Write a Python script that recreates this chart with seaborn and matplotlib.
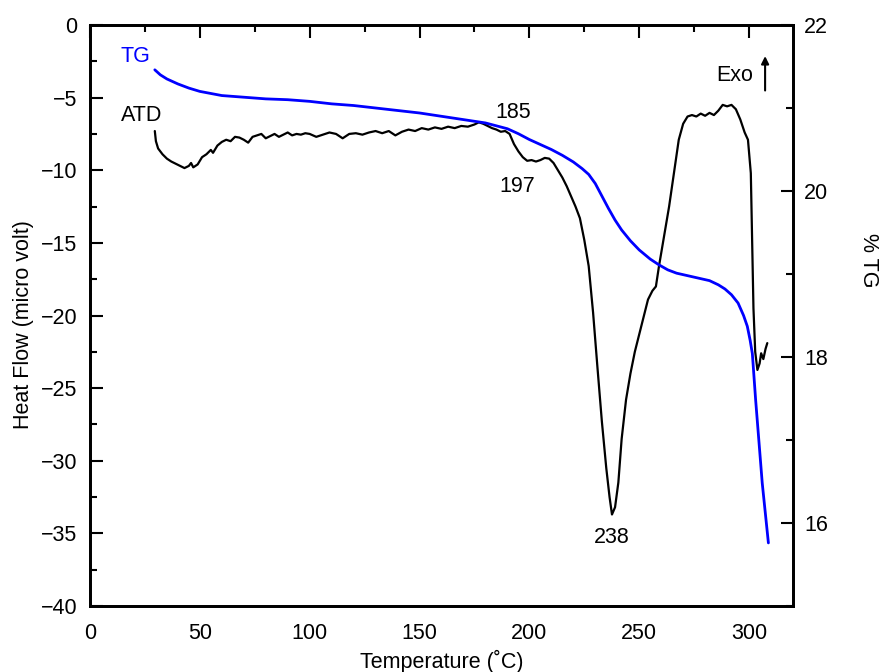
import matplotlib
matplotlib.use("Agg")
import matplotlib.pyplot as plt
import seaborn as sns
from matplotlib.ticker import MultipleLocator

# ---- data ----
atd_temp = [29.5, 30, 31, 33, 35, 37, 39, 41, 43, 45, 46, 47, 49, 51, 53, 55, 56, 58, 60, 62,
            64, 66, 68, 70, 72, 74, 76, 78, 80, 82, 84, 86, 88, 90, 92, 94, 96, 98, 100, 103,
            106, 109, 112, 115, 118, 121, 124, 127, 130, 133, 136, 139, 142, 145, 148, 151, 154, 157, 160, 163,
            166, 169, 172, 175, 177, 179, 181, 183, 185, 187, 189, 191, 193, 195, 197, 199, 201, 203, 205, 207,
            209, 211, 213, 215, 217, 219, 221, 223, 225, 227, 229, 231, 233, 235, 236.5, 237.6, 239, 240.5, 242, 244,
            246, 248, 250, 252, 254, 256, 257.6, 259, 261, 263.6, 266, 268, 270, 272, 274, 276, 278, 280, 282, 284,
            286, 288, 290, 292, 294, 296, 298, 299.5, 300.8, 301.4, 302, 302.8, 303.8, 304.8, 305.5, 306.5, 307.5, 308.3]
atd_flow = [-7.3, -8.0, -8.5, -8.9, -9.2, -9.4, -9.55, -9.7, -9.85, -9.7, -9.5, -9.8, -9.6, -9.1, -8.9, -8.6, -8.8, -8.3, -8.05, -7.9,
            -8.0, -7.7, -7.75, -7.9, -8.1, -7.7, -7.6, -7.5, -7.8, -7.65, -7.5, -7.7, -7.55, -7.4, -7.6, -7.5, -7.55, -7.45, -7.5, -7.7,
            -7.55, -7.4, -7.5, -7.8, -7.5, -7.45, -7.55, -7.4, -7.3, -7.45, -7.3, -7.6, -7.35, -7.2, -7.3, -7.1, -7.2, -7.05, -7.15, -7.0,
            -7.1, -6.95, -7.0, -6.85, -6.7, -6.8, -6.95, -7.1, -7.2, -7.35, -7.3, -7.5, -8.2, -8.7, -9.1, -9.35, -9.3, -9.4, -9.3, -9.15,
            -9.2, -9.5, -10.0, -10.5, -11.1, -11.8, -12.5, -13.3, -14.8, -16.6, -19.8, -23.6, -27.3, -30.5, -32.5, -33.7, -33.2, -31.5, -28.5, -25.8,
            -24.0, -22.5, -21.3, -20.1, -18.9, -18.3, -18.0, -16.6, -14.8, -12.5, -10.0, -7.9, -6.8, -6.3, -6.2, -6.3, -6.1, -6.25, -6.05, -6.2,
            -5.9, -5.5, -5.6, -5.5, -5.8, -6.5, -7.4, -7.9, -10.2, -15.0, -19.5, -22.5, -23.75, -23.3, -22.6, -23.0, -22.3, -21.9]

tg_temp = [29.5, 32, 35, 40, 45, 50, 60, 70, 80, 90, 100, 110, 120, 130, 140, 150, 160, 170, 180, 190,
           195, 200, 205, 210, 215, 220, 224, 227, 230, 233, 236, 239, 242, 246, 250, 255, 259, 263, 267, 272,
           277, 282, 286, 289, 292, 295, 297.5, 299.2, 300.5, 301.5, 303, 306, 308.8]
tg_pct = [21.46, 21.40, 21.35, 21.29, 21.24, 21.20, 21.15, 21.13, 21.11, 21.10, 21.08, 21.05, 21.03, 21.00, 20.97, 20.94, 20.90, 20.86, 20.82, 20.75,
          20.69, 20.62, 20.56, 20.50, 20.43, 20.35, 20.27, 20.20, 20.09, 19.94, 19.79, 19.65, 19.53, 19.40, 19.29, 19.18, 19.11, 19.05, 19.01, 18.98,
          18.95, 18.92, 18.87, 18.82, 18.75, 18.65, 18.50, 18.37, 18.20, 18.04, 17.48, 16.48, 15.76]

sns.set_style("white")
plt.rcParams['font.family'] = ['Liberation Sans', 'DejaVu Sans']
plt.rcParams['text.color'] = 'black'
plt.rcParams['axes.labelcolor'] = 'black'
plt.rcParams['xtick.color'] = 'black'
plt.rcParams['ytick.color'] = 'black'
FS = 15.5

fig = plt.figure(figsize=(8.83, 6.72), dpi=100)
ax = fig.add_axes([90/883, 1-606/672, (793-90)/883, (606-25)/672])
ax2 = ax.twinx()

sns.lineplot(x=atd_temp, y=atd_flow, ax=ax, color='black', linewidth=1.6)
sns.lineplot(x=tg_temp, y=tg_pct, ax=ax2, color='#0000ff', linewidth=2.0)

ax.set_xlim(0, 320)
ax.set_ylim(-40, 0)
ax2.set_ylim(15, 22)

ax.xaxis.set_major_locator(MultipleLocator(50))
ax.xaxis.set_minor_locator(MultipleLocator(25))
ax.yaxis.set_major_locator(MultipleLocator(5))
ax.yaxis.set_minor_locator(MultipleLocator(2.5))
ax2.yaxis.set_major_locator(MultipleLocator(2))
ax2.yaxis.set_minor_locator(MultipleLocator(1))

ax.tick_params(axis='both', which='both', direction='in', width=1.5, labelsize=FS, top=True,
               colors='black')
ax.tick_params(axis='x', which='major', length=9, pad=12)
ax.tick_params(axis='x', which='minor', length=5)
ax.tick_params(axis='y', which='major', length=9, pad=9)
ax.tick_params(axis='y', which='minor', length=5)
ax.tick_params(axis='x', which='both', labeltop=False)
ax2.tick_params(axis='y', which='major', direction='in', length=9, width=1.5, labelsize=FS, pad=8,
                colors='black')
ax2.tick_params(axis='y', which='minor', direction='in', length=5, width=1.5, colors='black')

for a in (ax, ax2):
    for s in a.spines.values():
        s.set_linewidth(2)
        s.set_color('black')
        s.set_visible(True)

ax.set_xlabel('Temperature (˚C)', fontsize=FS, va='center')
ax.xaxis.set_label_coords(0.5, -0.0946)
ax.set_ylabel('Heat Flow (micro volt)', fontsize=FS, va='center', ha='center')
ax.yaxis.set_label_coords(-0.094, 0.4836)
ax2.set_ylabel('% TG', fontsize=FS, rotation=270, va='center', ha='center')
ax2.yaxis.set_label_coords(1.108, 0.5955)

ax.text(14, -2.2, 'TG', color='#0000ff', fontsize=FS, ha='left', va='center')
ax.text(14, -6.2, 'ATD', color='black', fontsize=FS, ha='left', va='center')
ax.text(192.7, -6.0, '185', color='black', fontsize=FS, ha='center', va='center')
ax.text(194.5, -11.15, '197', color='black', fontsize=FS, ha='center', va='center')
ax.text(237.3, -35.3, '238', color='black', fontsize=FS, ha='center', va='center')
ax.text(301.8, -3.45, 'Exo', color='black', fontsize=FS, ha='right', va='center')
ax.annotate('', xy=(307.3, -1.95), xytext=(307.3, -4.7),
            arrowprops=dict(arrowstyle='-|>', color='black', lw=1.5, mutation_scale=11))

fig.savefig('out.png', dpi=100)
